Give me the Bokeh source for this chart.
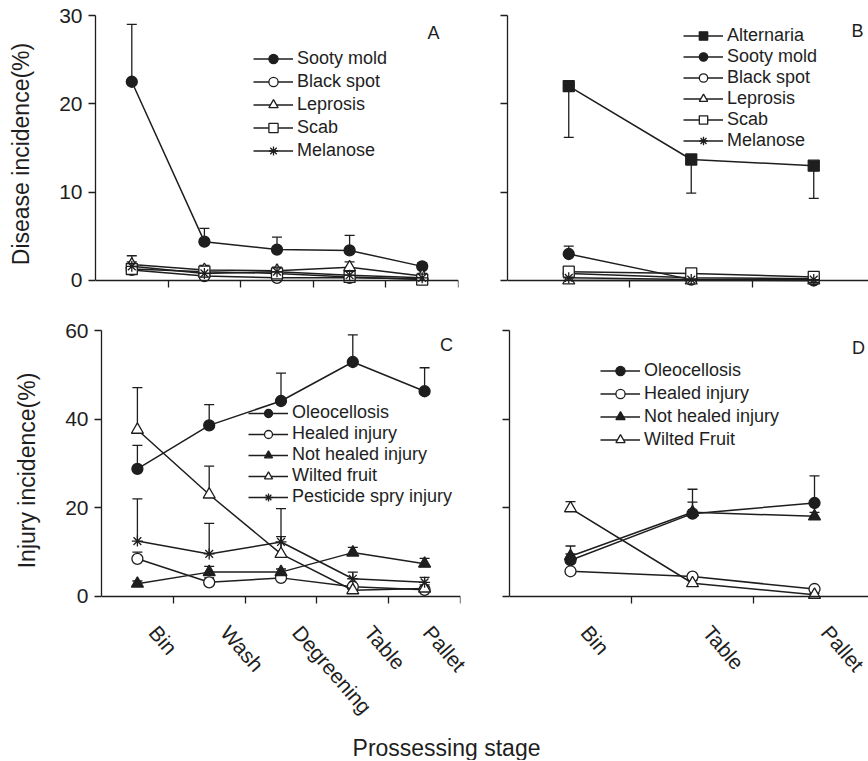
from bokeh.plotting import figure
from bokeh.models import (ColumnDataSource, Range1d, FixedTicker, LinearAxis, Legend,
                          LegendItem, Whisker, TeeHead, Label)
from bokeh.layouts import row, column
from bokeh.embed import file_html
from bokeh.resources import INLINE

# ---------------- data ----------------
stages_c = ["Bin", "Wash", "Degreening", "Table", "Pallet"]
stages_d = ["Bin", "Table", "Pallet"]

# Panel A (disease incidence, %)
a_sooty = [22.5, 4.4, 3.5, 3.4, 1.6]
a_sooty_top = [29.0, 5.9, 4.9, 5.1, 2.0]
a_black = [1.2, 0.5, 0.3, 0.3, 0.2]
a_black_top = [1.6, 0.8, 0.5, 0.5, 0.3]
a_lep = [1.8, 1.2, 1.1, 1.5, 0.5]
a_lep_top = [2.8, 1.7, 1.5, 2.1, 0.8]
a_scab = [1.3, 1.0, 0.8, 0.4, 0.1]
a_scab_top = [1.8, 1.4, 1.2, 0.7, 0.2]
a_mel = [1.6, 0.8, 1.0, 0.6, 0.3]
a_mel_top = [2.1, 1.2, 1.4, 0.9, 0.5]

# Panel B
b_alt = [22.0, 13.7, 13.0]
b_alt_low = [16.2, 9.9, 9.3]
b_sooty = [3.0, 0.1, 0.0]
b_sooty_top = [3.9, 0.2, 0.1]
b_black = [0.8, 0.3, 0.2]
b_lep = [0.0, 0.0, 0.0]
b_scab = [1.0, 0.8, 0.4]
b_mel = [0.3, 0.1, 0.1]

# Panel C (injury incidence, %)
c_oleo = [28.8, 38.6, 44.1, 52.9, 46.3]
c_oleo_top = [34.1, 43.3, 50.4, 59.0, 51.6]
c_healed = [8.5, 3.2, 4.2, 2.2, 1.5]
c_healed_top = [10.0, 4.2, 5.2, 2.8, 2.2]
c_nothealed = [2.9, 5.5, 5.5, 9.9, 7.4]
c_nothealed_top = [3.5, 6.8, 6.2, 11.1, 8.6]
c_wilted = [37.6, 23.0, 9.6, 1.4, 1.8]
c_wilted_top = [47.1, 29.4, 13.5, 2.4, 2.6]
c_pest = [12.5, 9.6, 12.3, 4.0, 3.2]
c_pest_top = [22.0, 16.5, 19.8, 5.5, 4.3]

# Panel D
d_oleo = [8.2, 18.7, 21.1]
d_oleo_top = [9.6, 24.2, 27.2]
d_healed = [5.7, 4.5, 1.7]
d_nothealed = [9.1, 19.0, 18.1]
d_nothealed_top = [11.4, 21.3, 19.0]
d_wilted = [19.9, 3.0, 0.4]
d_wilted_top = [21.4, 3.6, 0.7]

disease_ticks = [0, 10, 20, 30]
injury_ticks = [0, 20, 40, 60]

# ---------------- styling ----------------
INK = "#1e1e1e"
FONT = "Liberation Sans"
TICK_FS = "21px"
AXLAB_FS = "23px"
LEG_FS = "18px"


def make_fig(width, height, xr, yr, bl, br, bt, bb):
    p = figure(width=width, height=height, x_range=Range1d(*xr), y_range=Range1d(*yr),
               toolbar_location=None, output_backend="svg",
               min_border_left=bl, min_border_right=br, min_border_top=bt, min_border_bottom=bb)
    p.outline_line_color = None
    p.xgrid.visible = False
    p.ygrid.visible = False
    p.background_fill_color = "white"
    p.border_fill_color = "white"
    return p


def style_yaxis(p, ticks, label, show_labels):
    ax = p.yaxis[0]
    ax.ticker = FixedTicker(ticks=ticks)
    ax.bounds = (ticks[0], ticks[-1])
    ax.axis_line_color = INK
    ax.axis_line_width = 1.3
    ax.major_tick_line_color = INK
    ax.major_tick_line_width = 1.3
    ax.major_tick_out = 7
    ax.major_tick_in = 0
    ax.minor_tick_line_color = None
    ax.major_label_standoff = 6
    ax.major_label_text_font = FONT
    ax.major_label_text_color = INK
    if show_labels:
        ax.major_label_text_font_size = TICK_FS
    else:
        ax.major_label_text_font_size = "0px"
        ax.major_label_text_color = None
    if label:
        ax.axis_label = label
        ax.axis_label_text_font = FONT
        ax.axis_label_text_font_size = AXLAB_FS
        ax.axis_label_text_font_style = "normal"
        ax.axis_label_text_color = INK
        ax.axis_label_standoff = 22


def style_xaxis(p, n, names=None, shift=0.0, xr=None):
    ax = p.xaxis[0]
    ax.fixed_location = 0
    ax.ticker = FixedTicker(ticks=[i + 0.5 for i in range(n)])
    ax.bounds = (-0.5, n - 0.5)
    ax.axis_line_color = INK
    ax.axis_line_width = 1.3
    ax.major_tick_line_color = INK
    ax.major_tick_line_width = 1.3
    ax.major_tick_out = 7
    ax.major_tick_in = 0
    ax.minor_tick_line_color = None
    ax.major_label_text_font_size = "0px"
    ax.major_label_text_color = None
    if names:
        p.extra_x_ranges = {"lbl": Range1d(xr[0] - shift, xr[1] - shift)}
        lab = LinearAxis(x_range_name="lbl",
                         ticker=FixedTicker(ticks=list(range(n))),
                         major_label_overrides={i: s for i, s in enumerate(names)})
        lab.axis_line_color = None
        lab.major_tick_line_color = None
        lab.minor_tick_line_color = None
        lab.major_tick_out = 0
        lab.minor_tick_out = 0
        lab.major_tick_in = 0
        lab.minor_tick_in = 0
        lab.major_label_orientation = -0.86
        lab.major_label_standoff = 18
        lab.major_label_text_font = FONT
        lab.major_label_text_font_size = TICK_FS
        lab.major_label_text_color = INK
        p.add_layout(lab, "below")


def series(p, ys, marker, filled, label, tops=None, lows=None):
    xs = list(range(len(ys)))
    data = dict(x=xs, y=ys)
    if tops is not None:
        data["top"] = tops
    if lows is not None:
        data["low"] = lows
    src = ColumnDataSource(data)
    if tops is not None:
        p.add_layout(Whisker(source=src, base="x", upper="top", lower="y", dimension="height",
                             line_color=INK, line_width=1.3, lower_head=None,
                             upper_head=TeeHead(size=10, line_color=INK, line_width=1.3)))
    if lows is not None:
        p.add_layout(Whisker(source=src, base="x", upper="y", lower="low", dimension="height",
                             line_color=INK, line_width=1.3, upper_head=None,
                             lower_head=TeeHead(size=10, line_color=INK, line_width=1.3)))
    rl = p.line("x", "y", source=src, line_color=INK, line_width=1.5)
    size = {"circle": 11, "triangle": 12, "square": 11, "asterisk": 11}[marker]
    rm = p.scatter("x", "y", source=src, marker=marker, size=size, line_color=INK,
                   line_width=1.3, fill_color=INK if filled else "white")
    return LegendItem(label=label, renderers=[rl, rm])


def add_legend(p, items, loc, pitch):
    leg = Legend(items=items, location=loc, padding=0, margin=0, spacing=0,
                 glyph_width=40, glyph_height=pitch, label_height=pitch, label_standoff=4,
                 label_text_font=FONT, label_text_font_size=LEG_FS, label_text_color=INK,
                 label_text_baseline="middle",
                 background_fill_alpha=0, border_line_color=None)
    p.add_layout(leg)


def letter(p, txt, x, y):
    p.add_layout(Label(x=x, y=y, x_units="screen", y_units="screen", text=txt,
                       text_align="center", text_baseline="middle",
                       text_font=FONT, text_font_size="18px", text_color=INK))


# ---------------- Panel A ----------------
xrA = (-0.5, 4.5)
pA = make_fig(470, 300, xrA, (-1.3585, 30), 95, 12, 15, 8)
style_yaxis(pA, disease_ticks, "Disease incidence(%)", True)
style_xaxis(pA, len(stages_c))
itA = [
    series(pA, a_sooty, "circle", True, "Sooty mold", tops=a_sooty_top),
    series(pA, a_black, "circle", False, "Black spot", tops=a_black_top),
    series(pA, a_lep, "triangle", False, "Leprosis", tops=a_lep_top),
    series(pA, a_scab, "square", False, "Scab", tops=a_scab_top),
    series(pA, a_mel, "asterisk", False, "Melanose", tops=a_mel_top),
]
add_legend(pA, itA, (158, 130.5), 23)
letter(pA, "A", 338, 260)

# ---------------- Panel B ----------------
xrB = (-0.5, 2.447)
pB = make_fig(398, 300, xrB, (-1.3585, 30), 37, 0, 15, 8)
style_yaxis(pB, disease_ticks, None, False)
style_xaxis(pB, len(stages_d))
itB = [
    series(pB, b_alt, "square", True, "Alternaria", lows=b_alt_low),
    series(pB, b_sooty, "circle", True, "Sooty mold", tops=b_sooty_top),
    series(pB, b_black, "circle", False, "Black spot"),
    series(pB, b_lep, "triangle", False, "Leprosis"),
    series(pB, b_scab, "square", False, "Scab"),
    series(pB, b_mel, "asterisk", False, "Melanose"),
]
add_legend(pB, itB, (176, 141.5), 21)
letter(pB, "B", 350, 262)

# ---------------- Panel C ----------------
xrC = (-0.5, 4.5)
pC = make_fig(470, 435, xrC, (-3.158, 60), 101, 10, 30, 125)
style_yaxis(pC, injury_ticks, "Injury incidence(%)", True)
style_xaxis(pC, len(stages_c), stages_c, 0.22, xrC)
itC = [
    series(pC, c_oleo, "circle", True, "Oleocellosis", tops=c_oleo_top),
    series(pC, c_healed, "circle", False, "Healed injury", tops=c_healed_top),
    series(pC, c_nothealed, "triangle", True, "Not healed injury", tops=c_nothealed_top),
    series(pC, c_wilted, "triangle", False, "Wilted fruit", tops=c_wilted_top),
    series(pC, c_pest, "asterisk", False, "Pesticide spry injury", tops=c_pest_top),
]
add_legend(pC, itC, (147, 103), 20)
letter(pC, "C", 345, 266)

# ---------------- Panel D ----------------
xrD = (-0.5, 2.4426)
pD = make_fig(398, 435, xrD, (-3.146, 60), 39, 0, 29, 125)
style_yaxis(pD, injury_ticks, None, False)
style_xaxis(pD, len(stages_d), stages_d, 0.12, xrD)
itD = [
    series(pD, d_oleo, "circle", True, "Oleocellosis", tops=d_oleo_top),
    series(pD, d_healed, "circle", False, "Healed injury"),
    series(pD, d_nothealed, "triangle", True, "Not healed injury", tops=d_nothealed_top),
    series(pD, d_wilted, "triangle", False, "Wilted Fruit", tops=d_wilted_top),
]
add_legend(pD, itD, (91, 159.5), 23)
letter(pD, "D", 349, 263)

# ---------------- common x title ----------------
pT = figure(width=868, height=25, x_range=(0, 1), y_range=(0, 1), toolbar_location=None,
            output_backend="svg", min_border=0, x_axis_location=None, y_axis_location=None)
pT.outline_line_color = None
pT.xgrid.visible = False
pT.ygrid.visible = False
pT.add_layout(Label(x=446, y=13, x_units="screen", y_units="screen", text="Prossessing stage",
                    text_align="center", text_baseline="middle", text_font=FONT,
                    text_font_size=AXLAB_FS, text_color=INK))

layout = column(row(pA, pB), row(pC, pD), pT)
open("out.html", "w").write(file_html(layout, INLINE))
